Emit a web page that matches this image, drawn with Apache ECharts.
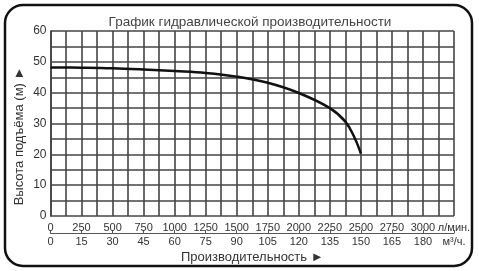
<!DOCTYPE html>
<html><head><meta charset="utf-8">
<script src="https://cdn.jsdelivr.net/npm/echarts@6/dist/echarts.min.js"></script>
<style>html,body{margin:0;padding:0;background:#fff}#c{width:479px;height:271px}</style>
</head><body><div id="c"></div>
<script>
var flowLmin = [0, 250, 500, 750, 1000, 1250, 1500, 1750, 2000, 2250, 2375, 2450, 2500];
var headM = [48.2, 48.1, 47.9, 47.5, 47.0, 46.4, 45.2, 43.2, 39.9, 35.0, 30.6, 25.3, 20.2];
var titleText = 'График гидравлической производительности';
var yName = 'Высота подъёма (м) ►';
var xName = 'Производительность ►';
var unitL = 'л/мин.';
var unitM = 'м³/ч.';

var F = 'Liberation Sans, Arial, sans-serif';
var chart = echarts.init(document.getElementById('c'));
chart.setOption({
  backgroundColor: '#fff',
  animation: false,
  title: {text: titleText, left: 245, top: 10, textAlign: 'center',
    textStyle: {fontFamily: F, fontSize: 13.5, fontWeight: 'normal', color: '#444'}},
  grid: {left: 50.5, right: 25, top: 31, bottom: 55},
  graphic: [{type: 'rect', shape: {x: 5, y: 5, width: 467, height: 261, r: 18},
    style: {fill: 'none', stroke: '#111', lineWidth: 2.5}, silent: true, z: 100}],
  xAxis: [{
    type: 'value', min: 0, max: 3250, interval: 125, position: 'bottom',
    axisLine: {show: false}, axisTick: {show: false},
    splitLine: {show: true, lineStyle: {color: '#444', width: 1.6}},
    axisLabel: {margin: 6, fontFamily: F, fontSize: 11, color: '#333',
      formatter: function (v) { if (v === 3250) return unitL; return (v % 250 === 0) ? String(v) : ''; }}
  }, {
    type: 'value', min: 0, max: 195, interval: 15, position: 'bottom', offset: 17,
    axisLine: {show: true, lineStyle: {color: '#555', width: 1.2}},
    axisTick: {show: true, inside: true, length: 3, lineStyle: {color: '#555'}},
    splitLine: {show: false},
    name: xName, nameLocation: 'middle', nameGap: 18, nameMoveOverlap: false,
    nameTextStyle: {fontFamily: F, fontSize: 13, color: '#333'},
    axisLabel: {margin: 3, fontFamily: F, fontSize: 11, color: '#333',
      formatter: function (v) { return v === 195 ? unitM : String(v); }}
  }],
  yAxis: {
    type: 'value', min: 0, max: 60, interval: 5,
    axisLine: {show: true, lineStyle: {color: '#444', width: 1.6}}, axisTick: {show: false},
    splitLine: {show: true, lineStyle: {color: '#444', width: 1.6}},
    name: yName, nameLocation: 'middle', nameGap: 25, nameMoveOverlap: false,
    nameTextStyle: {fontFamily: F, fontSize: 13, color: '#333', padding: [0, 25, 0, 0]},
    axisLabel: {margin: 4, fontFamily: F, fontSize: 12, color: '#333',
      formatter: function (v) { return v % 10 === 0 ? String(v) : ''; }}
  },
  series: [{
    type: 'line', xAxisIndex: 0, smooth: 0.4, symbol: 'none',
    lineStyle: {color: '#111', width: 2.5},
    data: flowLmin.map(function (x, i) { return [x, headM[i]]; })
  }]
});
</script></body></html>
